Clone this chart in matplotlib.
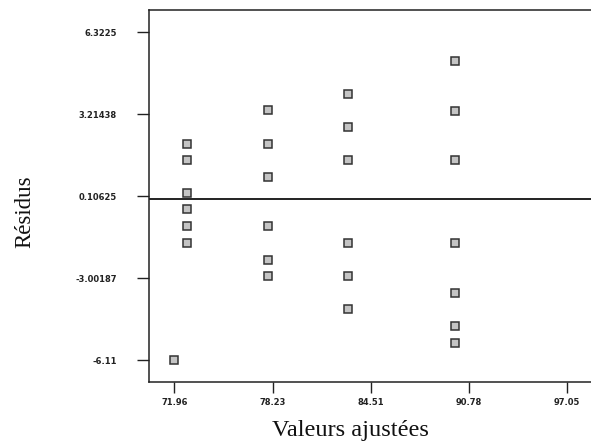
import matplotlib
matplotlib.use("Agg")
import matplotlib.pyplot as plt

# Fitted values (x) and residuals (y)
fitted_1 = [71.96]
resid_1 = [-6.11]
fitted_2 = [72.79] * 6
resid_2 = [2.10, 1.46, 0.24, -0.39, -1.02, -1.65]
fitted_3 = [77.95] * 6
resid_3 = [3.36, 2.10, 0.85, -1.02, -2.30, -2.92]
fitted_4 = [83.04] * 6
resid_4 = [3.96, 2.71, 1.46, -1.65, -2.92, -4.18]
fitted_5 = [89.88] * 7
resid_5 = [5.21, 3.35, 1.46, -1.65, -3.55, -4.81, -5.44]

xticks = [71.96, 78.23, 84.51, 90.78, 97.05]
xtick_labels = ["71.96", "78.23", "84.51", "90.78", "97.05"]
yticks = [6.3225, 3.21438, 0.10625, -3.00187, -6.11]
ytick_labels = ["6.3225", "3.21438", "0.10625", "-3.00187", "-6.11"]

W, H = 591, 445
fig = plt.figure(figsize=(W / 100, H / 100), dpi=100)
fig.patch.set_facecolor("white")

left, right, bottom, top = 149, 593, 381.7, 10
ax = fig.add_axes([left / W, (H - bottom) / H, (right - left) / W, (bottom - top) / H])

xs = fitted_1 + fitted_2 + fitted_3 + fitted_4 + fitted_5
ys = resid_1 + resid_2 + resid_3 + resid_4 + resid_5
ax.plot(xs, ys, linestyle="none", marker="s", markersize=6.3,
        markerfacecolor="#c4c4c4", markeredgecolor="#333333", markeredgewidth=1.1)

ax.axhline(0, color="#111111", linewidth=1.3, zorder=1)

ax.set_xlim(70.345, 98.69)
ax.set_ylim(-6.92, 7.16)

ax.set_xticks(xticks)
ax.set_xticklabels(xtick_labels)
ax.set_yticks(yticks)
ax.set_yticklabels(ytick_labels)

for lab in ax.get_xticklabels() + ax.get_yticklabels():
    lab.set_fontfamily("DejaVu Sans")
    lab.set_fontweight("bold")
    lab.set_fontsize(6.0)
    lab.set_color("#222222")

ax.tick_params(axis="y", direction="out", length=8.6, width=1.0, pad=14.5, color="#222222")
ax.tick_params(axis="x", direction="out", length=8.0, width=1.0, pad=4.0, color="#222222")

for side in ["left", "bottom", "top"]:
    ax.spines[side].set_linewidth(1.1)
    ax.spines[side].set_color("#222222")
ax.spines["right"].set_visible(False)

fig.text(350 / W, (H - 436) / H, "Valeurs ajustées", family="Liberation Serif",
         fontsize=17.5, ha="center", va="baseline", color="#111111")
fig.text(25 / W, (H - 212) / H, "Résidus", family="Liberation Serif",
         fontsize=16.5, ha="center", va="center", rotation=90, color="#111111")

fig.savefig("out.png", dpi=100, facecolor="white")
